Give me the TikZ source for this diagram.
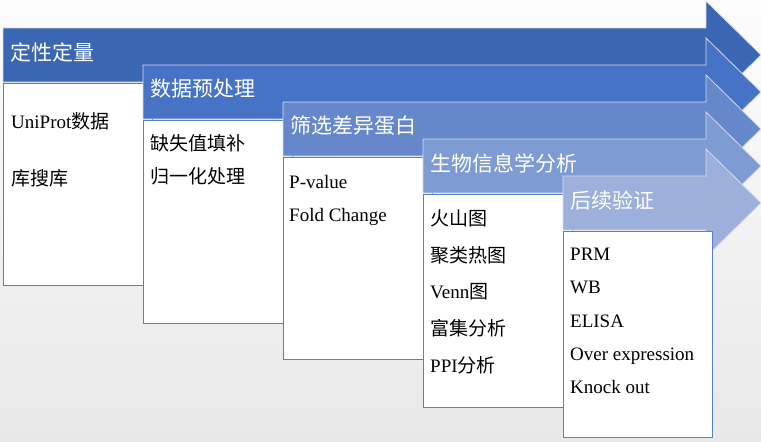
\documentclass[tikz,border=0pt]{standalone}
\usepackage{fontspec}
\setmainfont{Liberation Serif}
\newfontfamily\cjk{Noto Sans CJK SC}
\definecolor{stageA}{HTML}{3A66B4}
\definecolor{stageB}{HTML}{4773C6}
\definecolor{stageC}{HTML}{6688CB}
\definecolor{stageD}{HTML}{7F9BD3}
\definecolor{stageE}{HTML}{9DB0DC}
\definecolor{boxline}{HTML}{5A7EC8}
\definecolor{barline}{HTML}{D3DCEF}
\begin{document}
\begin{tikzpicture}[x=1pt, y=-1pt]
        \tikzset{
            stagebar/.style={draw=barline, line width=0.8pt},
            stagebox/.style={draw=boxline, fill=white, line width=0.8pt},
            stagetitle/.style={anchor=west, inner sep=0pt, text=white, font=\cjk\fontsize{21}{25}\selectfont},
            itemtext/.style={anchor=west, inner sep=0pt, text height=14pt, text depth=4pt, font=\fontsize{19}{23}\selectfont}
        }

        % background
        \shade[top color=black!1, bottom color=black!9] (0,0) rectangle (761,442);
        \useasboundingbox (0,0) rectangle (761,442);

        \begin{scope}[shift={(3,28)}]
            \draw[stagebar, fill=stageA] (0,0) -- (703,0) -- (703,-27) -- (758,27) -- (703,81) -- (703,54) -- (0,54) -- cycle;
            \draw[stagebox] (0,55) rectangle (149,257);
            \node[stagetitle] (t1) at (7,24) {定性定量};
            \node[itemtext] (i11) at (8,95) {UniProt{\cjk 数据}};
            \node[itemtext] (i12) at (8,152) {\cjk 库搜库};
        \end{scope}

        \begin{scope}[shift={(143,65)}]
            \draw[stagebar, fill=stageB] (0,0) -- (563,0) -- (563,-27) -- (618,27) -- (563,81) -- (563,54) -- (0,54) -- cycle;
            \draw[stagebox] (0,55) rectangle (149,258);
            \node[stagetitle] (t2) at (7,24) {数据预处理};
            \node[itemtext] (i21) at (7,80) {\cjk 缺失值填补};
            \node[itemtext] (i22) at (7,113) {\cjk 归一化处理};
        \end{scope}

        \begin{scope}[shift={(283,102)}]
            \draw[stagebar, fill=stageC] (0,0) -- (423,0) -- (423,-27) -- (478,27) -- (423,81) -- (423,54) -- (0,54) -- cycle;
            \draw[stagebox] (0,55) rectangle (149,257);
            \node[stagetitle] (t3) at (7,24) {筛选差异蛋白};
            \node[itemtext] (i31) at (6,81) {P-value};
            \node[itemtext] (i32) at (6,114) {Fold Change};
        \end{scope}

        \begin{scope}[shift={(423,139)}]
            \draw[stagebar, fill=stageD] (0,0) -- (283,0) -- (283,-27) -- (338,27) -- (283,81) -- (283,54) -- (0,54) -- cycle;
            \draw[stagebox] (0,55) rectangle (149,268);
            \node[stagetitle] (t4) at (7,24) {生物信息学分析};
            \node[itemtext] (i41) at (7,81) {\cjk 火山图};
            \node[itemtext] (i42) at (7,118) {\cjk 聚类热图};
            \node[itemtext] (i43) at (7,154) {Venn{\cjk 图}};
            \node[itemtext] (i44) at (7,191) {\cjk 富集分析};
            \node[itemtext] (i45) at (7,228) {PPI{\cjk 分析}};
        \end{scope}

        \begin{scope}[shift={(563,176)}]
            \draw[stagebar, fill=stageE] (0,0) -- (143,0) -- (143,-27) -- (198,27) -- (143,81) -- (143,54) -- (0,54) -- cycle;
            \draw[stagebox] (0,55) rectangle (149,261);
            \node[stagetitle] (t5) at (7,24) {后续验证};
            \node[itemtext] (i51) at (7,79) {PRM};
            \node[itemtext] (i52) at (7,112) {WB};
            \node[itemtext] (i53) at (7,146) {ELISA};
            \node[itemtext] (i54) at (7,179) {Over expression};
            \node[itemtext] (i55) at (7,212) {Knock out};
        \end{scope}
    \end{tikzpicture}
\end{document}
